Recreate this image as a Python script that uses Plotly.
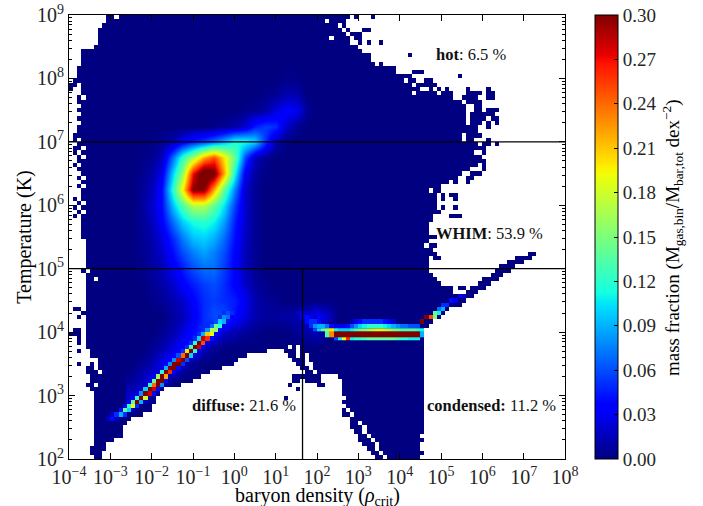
import math
import plotly.graph_objects as go

# All axis coordinates are log10 of density and temperature.
FIELD_X = [-2.5,-2.25,-2,-1.75,-1.5,-1.25,-1,-.75,-.5,-.25,0,.25,.5,.75,1,1.25,1.5,1.75,2,2.25,2.5]
FIELD_Y = [8,7.75,7.5,7.25,7,6.75,6.5,6.25,6,5.75,5.5,5.25,5,4.75,4.5,4.25,4,3.75,3.5,3.25,3]
FIELD_Z = [
 [0,0,0,0,0,0,0,0,0,0,0,0,0,0,0,.002,.002,0,0,0,0],
 [0,0,0,0,0,0,0,0,0,0,0,0,0,.003,.005,.012,.012,0,0,0,0],
 [0,0,0,0,0,0,0,0,0,0,0,.003,.005,.01,.025,.035,.03,.005,0,0,0],
 [0,0,0,0,0,0,0,0,.002,.005,.01,.02,.045,.055,.05,.02,.005,0,0,0,0],
 [0,0,.002,.005,.012,.03,.045,.055,.07,.09,.115,.115,.10,.05,.012,.002,0,0,0,0,0],
 [0,.002,.005,.015,.07,.125,.165,.22,.25,.20,.14,.06,.015,.004,0,0,0,0,0,0,0],
 [0,.004,.01,.03,.10,.16,.27,.33,.31,.22,.11,.03,.008,.002,0,0,0,0,0,0,0],
 [0,.006,.015,.04,.12,.20,.30,.30,.22,.14,.075,.02,.005,0,0,0,0,0,0,0,0],
 [0,.007,.02,.04,.095,.135,.17,.17,.14,.105,.055,.02,.005,0,0,0,0,0,0,0,0],
 [0,.006,.015,.035,.07,.10,.115,.12,.11,.085,.045,.02,.005,0,0,0,0,0,0,0,0],
 [0,.005,.012,.025,.05,.075,.095,.10,.09,.07,.04,.018,.005,0,0,0,0,0,0,0,0],
 [0,.004,.01,.02,.04,.06,.075,.085,.075,.06,.035,.015,.005,0,0,0,0,0,0,0,0],
 [0,.003,.008,.015,.03,.045,.06,.07,.07,.055,.035,.015,.005,0,0,0,0,0,0,0,0],
 [0,0,.005,.01,.02,.035,.045,.055,.06,.05,.035,.02,.008,.003,0,0,0,0,0,0,0],
 [0,0,.003,.006,.012,.02,.035,.05,.055,.05,.045,.03,.012,.006,.004,0,0,0,0,0,0],
 [0,0,0,0,.008,.015,.03,.05,.06,.06,.04,.025,.012,.008,.008,.01,.012,.02,.035,.02,0],
 [0,0,0,.005,.012,.025,.04,.05,.035,.02,.012,.006,.004,0,0,0,.006,.01,.015,0,0],
 [0,0,.005,.012,.025,.04,.045,.015,.005,0,0,0,0,0,0,0,0,0,0,0,0],
 [0,.005,.012,.03,.045,.015,.004,0,0,0,0,0,0,0,0,0,0,0,0,0,0],
 [.006,.015,.03,.02,.004,0,0,0,0,0,0,0,0,0,0,0,0,0,0,0,0],
 [.02,.02,.005,0,0,0,0,0,0,0,0,0,0,0,0,0,0,0,0,0,0],
]

# filled column spans, one entry per temperature row, top row first (0.1 dex columns, 1/15 dex rows)
FILLED_SPANS = [
 [[9,10],[12,67],[69,69],[73,73]],
 [[9,61],[63,66]],
 [[8,64],[66,66]],
 [[7,65],[67,67],[71,72]],
 [[7,66],[68,70]],
 [[7,62],[64,67],[69,70]],
 [[7,67],[70,70],[72,72],[75,75]],
 [[6,69]],
 [[3,70]],
 [[3,72],[82,82]],
 [[3,72]],
 [[3,73],[75,75]],
 [[2,78]],
 [[2,78],[83,85]],
 [[2,82],[94,94]],
 [[1,80],[82,83],[86,87]],
 [[0,1],[3,82],[84,88]],
 [[0,0],[3,84],[87,87],[89,89],[91,91],[96,96],[101,101]],
 [[3,82],[84,88],[90,92],[96,99],[101,102]],
 [[2,2],[4,92],[95,98],[101,102]],
 [[2,94],[96,99]],
 [[3,95],[98,99]],
 [[2,95],[98,99],[101,103]],
 [[3,95],[97,99],[100,102]],
 [[2,95],[97,100],[102,103]],
 [[3,95],[97,99],[101,101],[103,103]],
 [[2,98],[101,101]],
 [[2,98]],
 [[1,94],[96,99]],
 [[1,1],[3,94],[96,97],[101,101]],
 [[2,98],[100,101],[103,103]],
 [[1,2],[4,97],[98,100]],
 [[1,1],[3,97],[100,100]],
 [[2,2],[4,99]],
 [[2,99],[100,100]],
 [[1,1],[3,98],[100,100]],
 [[2,96],[100,100]],
 [[3,94],[97,99]],
 [[2,2],[4,93],[96,97]],
 [[3,91],[93,93],[96,96]],
 [[2,2],[4,89]],
 [[3,86],[88,89]],
 [[3,88],[90,90],[92,93]],
 [[1,1],[3,88],[90,90],[93,93]],
 [[2,2],[4,88]],
 [[1,1],[3,88],[90,90],[93,93]],
 [[2,2],[4,89]],
 [[1,1],[3,87],[92,94]],
 [[3,87]],
 [[3,86]],
 [[3,86]],
 [[3,86]],
 [[3,88]],
 [[4,86]],
 [[4,85],[87,88]],
 [[4,87]],
 [[4,88],[111,112]],
 [[4,86],[88,89],[108,111]],
 [[4,86],[106,109]],
 [[4,86],[104,107]],
 [[3,3],[5,86],[103,106]],
 [[4,87],[102,104]],
 [[4,5],[7,88],[100,103]],
 [[4,89],[99,101]],
 [[4,92],[94,95],[97,100]],
 [[4,92],[96,98]],
 [[4,97]],
 [[4,95]],
 [[4,94]],
 [[1,2],[4,91]],
 [[3,90]],
 [[2,2],[4,89]],
 [[4,87]],
 [[4,86]],
 [[1,2],[4,85]],
 [[0,2],[4,85]],
 [[2,2],[4,85]],
 [[2,2],[4,85]],
 [[4,52],[54,54],[56,85]],
 [[2,2],[5,47],[52,54],[56,85]],
 [[5,42],[53,54],[56,56],[58,85]],
 [[7,40],[54,56],[58,85]],
 [[2,2],[5,5],[7,39],[55,56],[59,85]],
 [[4,5],[7,36],[56,57],[59,85]],
 [[4,6],[8,33],[57,58],[60,85]],
 [[5,31],[54,55],[56,60],[65,85]],
 [[5,29],[54,55],[57,60],[66,85]],
 [[4,5],[7,26],[53,53],[60,61],[66,85]],
 [[5,22],[55,55],[66,85]],
 [[6,21],[66,85]],
 [[6,20],[52,52],[67,85]],
 [[6,20],[66,85]],
 [[6,19],[67,85]],
 [[6,19],[66,66],[68,85]],
 [[6,17],[66,67],[69,85]],
 [[6,14],[68,85]],
 [[6,13],[68,69],[71,85]],
 [[6,12],[68,70],[72,85]],
 [[6,12],[69,70],[72,85]],
 [[6,12],[70,71],[73,84]],
 [[6,10],[70,72],[74,85]],
 [[6,8],[71,73],[75,84]],
 [[5,8],[72,73],[75,84]],
 [[5,7],[73,74],[76,85]],
 [[6,7],[74,75],[77,84]],
]

# sharp narrow features: (row, first column, values along the row)
RIDGE_CELLS = [
 (70,37,[.05,.06,.05]),(71,36,[.05,.08,.07,.03]),
 (72,35,[.06,.10,.09,.04]),(73,34,[.07,.14,.12,.03]),(74,32,[.05,.08,.17,.16,.04]),
 (75,31,[.05,.09,.21,.19,.04]),(76,30,[.05,.10,.28,.26,.04]),(77,29,[.05,.12,.30,.25,.03]),
 (78,28,[.05,.13,.30,.28,.03]),(79,27,[.05,.20,.30,.12]),(80,26,[.06,.24,.30,.10]),
 (81,25,[.08,.28,.30,.06]),(82,24,[.08,.30,.30,.05]),(83,23,[.09,.30,.30,.04]),
 (84,22,[.12,.30,.26,.03]),(85,21,[.16,.30,.22]),(86,20,[.14,.30,.30,.04]),
 (87,19,[.12,.24,.30,.08]),(88,18,[.10,.30,.28,.04]),(89,16,[.03,.08,.30,.28,.04]),
 (90,15,[.03,.12,.30,.18]),(91,14,[.03,.14,.30,.09]),(92,13,[.03,.12,.19,.05]),
 (93,12,[.04,.14,.10,.02]),(94,10,[.02,.05,.09,.05]),(95,9,[.02,.04,.02]),
]
BAR_CELLS = [
 (70,55,[.02,.025,.02]),
 (71,56,[.03,.04,.035,.02]),
 (72,57,[.04,.05,.05,.04,.02,0,0,0,0,0,0,.015,.03,.04,.05,.05,.05,.05,.05,.04,.03,.02]),
 (73,58,[.05,.08,.09,.09,.07,.04,.03,.03,.03,.04,.06,.08,.10,.11,.12,.12,.12,.12,.11,.10,.09,.08,.07,.07,.06,.06,.06]),
 (72,85,[.30]),(71,86,[.30,.25,.15]),(70,88,[.14,.11]),(69,89,[.07,.09]),(68,90,[.05,.05]),(67,92,[.04,.03]),(66,94,[.025,.02]),
]
# the three thin rows of the condensed bar: log10 T edges, then (first column, values)
BAR_EDGES = [4.061, 4.008, 3.925, 3.87]
BAR_ROWS = [
 (59,[.06,.10,.14,.16,.20,.11,.10,.10,.10,.11,.13,.14,.15,.16,.17,.18,.18,.17,.16,.15,.14,.13,.13,.13,.13,.12,.11]),
 (62,[.13,.23]+[.30]*21+[.09]),
 (64,[.06,.11,.19,.26,.11,.12,.12,.13,.14,.14,.14,.14,.14,.14,.14,.13,.12,.12,.11,.11,.11]),
]

X_TICKS = list(range(-4, 9))
Y_TICKS = list(range(2, 10))
X_DIVIDER = 1.65
WHIM_LOW, WHIM_HIGH = 5, 7
LABELS = [("<b>hot</b>: 6.5 %", 4.9, 8.374), ("<b>WHIM</b>: 53.9 %", 4.9, 5.55),
          ("<b>diffuse:</b> 21.6 %", -1.0, 2.85), ("<b>condensed:</b> 11.2 %", 4.686, 2.85)]
CB_TICKS = [0, .03, .06, .09, .12, .15, .18, .21, .24, .27, .30]

NCOL, NROW = 120, 105
FONT = "Liberation Serif"
INK = "#262626"

# matplotlib's jet
def jet():
    R = [(0,0),(.35,0),(.66,1),(.89,1),(1,.5)]
    G = [(0,0),(.125,0),(.375,1),(.64,1),(.91,0),(1,0)]
    B = [(0,.5),(.11,1),(.34,1),(.65,0),(1,0)]
    def at(seg, t):
        for (a, va), (b, vb) in zip(seg, seg[1:]):
            if a <= t <= b:
                return va + (vb - va) * (t - a) / (b - a)
    stops = sorted({p for s in (R, G, B) for p, _ in s})
    return [[t, f"rgb({at(R,t)*255:.0f},{at(G,t)*255:.0f},{at(B,t)*255:.0f})"] for t in stops]
JET = jet()

cx = [-4 + (c + .5) / 10 for c in range(NCOL)]
cy = [9 - (r + .5) / 15 for r in range(NROW)]

mask = [[1] * NCOL for _ in range(NROW)]
for r, spans in enumerate(FILLED_SPANS):
    for a, b in spans:
        for c in range(a, b + 1):
            mask[r][c] = None

cells = [[None] * NCOL for _ in range(NROW)]
for r, c0, vals in BAR_CELLS + RIDGE_CELLS:
    for i, v in enumerate(vals):
        if v > 0:
            cells[r][c0 + i] = v

bar = [[None] * NCOL for _ in BAR_ROWS]
for k, (c0, vals) in enumerate(BAR_ROWS):
    for i, v in enumerate(vals):
        bar[k][c0 + i] = v

fig = go.Figure()
fig.add_trace(go.Heatmap(
    x=FIELD_X, y=FIELD_Y, z=FIELD_Z, zsmooth="best", colorscale=JET, zmin=0, zmax=.3, hoverinfo="skip",
    colorbar=dict(
        x=1.0611, xanchor="left", xpad=0, ypad=0, y=.5, len=1, lenmode="fraction",
        thickness=22.5, thicknessmode="pixels",
        outlinecolor="black", outlinewidth=1, ticklabeloverflow="allow",
        tickmode="array", tickvals=CB_TICKS, ticktext=[f"{t:.2f}" for t in CB_TICKS],
        ticks="inside", ticklen=4, tickcolor="black", tickwidth=1,
        tickfont=dict(family=FONT, size=19, color=INK),
    )))
fig.add_trace(go.Heatmap(x=cx, y=cy, z=mask, colorscale=[[0,"white"],[1,"white"]], showscale=False,
                         zmin=0, zmax=1, hoverinfo="skip"))
fig.add_trace(go.Heatmap(x=cx, y=cy, z=cells, colorscale=JET, zmin=0, zmax=.3, showscale=False, hoverinfo="skip"))
fig.add_trace(go.Heatmap(x=cx, y=BAR_EDGES, z=bar, colorscale=JET, zmin=0, zmax=.3, showscale=False, hoverinfo="skip"))

for y in (WHIM_LOW, WHIM_HIGH):
    fig.add_shape(type="line", x0=X_TICKS[0], x1=X_TICKS[-1], y0=y, y1=y, line=dict(color="black", width=1.3))
fig.add_shape(type="line", x0=X_DIVIDER, x1=X_DIVIDER, y0=Y_TICKS[0], y1=WHIM_LOW, line=dict(color="black", width=1.3))

for text, x, y in LABELS:
    fig.add_annotation(x=x, y=y, text=text, showarrow=False, xanchor="left", yanchor="middle",
                       xshift=-3, font=dict(family=FONT, size=16.5, color="#111"))
fig.add_annotation(xref="paper", yref="paper", x=1.2157, y=.5, textangle=-90, showarrow=False,
                   xanchor="center", yanchor="middle",
                   text="mass fraction (M<sub>gas,bin</sub>/M<sub>bar,tot</sub> dex<sup>−2</sup>)",
                   font=dict(family=FONT, size=19, color="black"))
fig.add_annotation(xref="paper", yref="paper", x=.5, y=-.0835, showarrow=False,
                   xanchor="center", yanchor="middle",
                   text="baryon density (<i>ρ</i><sub>crit</sub>)",
                   font=dict(family=FONT, size=20, color="black"))

def power(n):
    return f"10<sup>{str(n).replace('-', '−')}</sup>"

minor_y = [n + math.log10(k) for n in Y_TICKS[:-1] for k in range(2, 10)]
axis = dict(showgrid=False, zeroline=False, showline=True, linecolor="black", linewidth=1, mirror="ticks",
            ticks="inside", ticklen=6, tickcolor="black", tickwidth=1, automargin=False,
            ticklabeloverflow="allow",
            tickfont=dict(family=FONT, size=20, color=INK), tickmode="array")
fig.update_layout(
    width=703, height=506, margin=dict(l=69, r=138, t=15, b=47, autoexpand=False),
    paper_bgcolor="white", plot_bgcolor="#000080", showlegend=False,
    font=dict(family=FONT),
    xaxis=dict(axis, range=[X_TICKS[0], X_TICKS[-1]], tickvals=X_TICKS, ticktext=[power(n) for n in X_TICKS]),
    yaxis=dict(axis, range=[Y_TICKS[0], Y_TICKS[-1]], tickvals=Y_TICKS, ticktext=[power(n) for n in Y_TICKS],
               minor=dict(tickvals=minor_y, ticks="inside", ticklen=3, tickcolor="black", tickwidth=1),
               title=dict(text="Temperature (K)", standoff=0, font=dict(family=FONT, size=20, color="black"))),
)
fig.write_html("out.html", config=dict(displayModeBar=False),
               post_script="document.body.style.margin='0';document.body.style.overflow='hidden';")
